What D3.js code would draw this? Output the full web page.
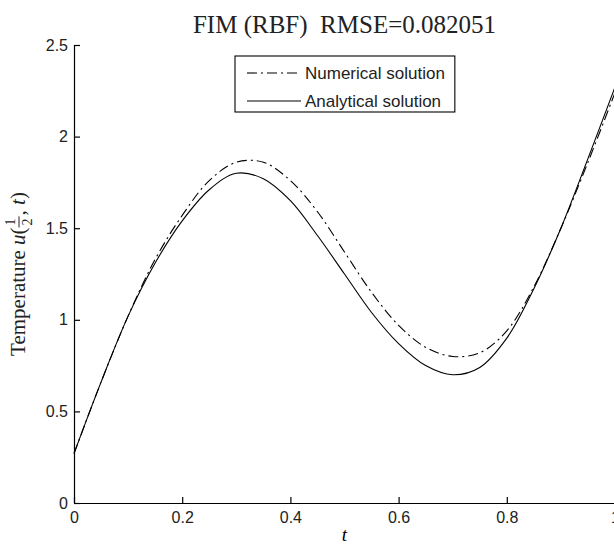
<!DOCTYPE html>
<html>
<head>
<meta charset="utf-8">
<script src="https://cdn.jsdelivr.net/npm/d3@7"></script>
<style>
  body { margin: 0; background: #fff; }
  svg { display: block; }
</style>
</head>
<body>
<svg width="614" height="546"></svg>
<script>
var svg = d3.select("svg"),
    width = 614, height = 546;

// data
var tValues    = [0, 0.05, 0.1, 0.15, 0.2, 0.25, 0.3, 0.35, 0.4, 0.45, 0.5, 0.55, 0.6, 0.65, 0.7, 0.75, 0.8, 0.85, 0.9, 0.95, 1];
var analytical = [0.27, 0.66, 1.02, 1.31, 1.54, 1.71, 1.80, 1.77, 1.65, 1.46, 1.25, 1.04, 0.87, 0.75, 0.70, 0.74, 0.90, 1.17, 1.50, 1.88, 2.27];
var numerical  = [0.27, 0.66, 1.02, 1.33, 1.57, 1.76, 1.86, 1.86, 1.76, 1.59, 1.37, 1.15, 0.97, 0.85, 0.80, 0.82, 0.94, 1.18, 1.50, 1.86, 2.24];
var xTicks = [0, 0.2, 0.4, 0.6, 0.8, 1];
var yTicks = [0, 0.5, 1, 1.5, 2, 2.5];
var seriesNames = ["Numerical solution", "Analytical solution"];

var axLeft = 74, axRight = 615, axTop = 45, axBottom = 503;

var x = d3.scaleLinear().domain([0, 1]).range([axLeft, axRight]),
    y = d3.scaleLinear().domain([0, 2.5]).range([axBottom, axTop]);

var sans = "'Liberation Sans', Arial, sans-serif",
    serif = "'Liberation Serif', 'Times New Roman', serif",
    dashDot = "10,4,2,4";

/***********************************************************************************************/

var line = d3.line()
  .x((d, i) => x(tValues[i]))
  .y(d => y(d))
  .curve(d3.curveCatmullRom.alpha(0.5));

svg.append("path").datum(numerical)
  .attr("d", line)
  .attr("fill", "none").attr("stroke", "#000").attr("stroke-width", 1.1)
  .attr("stroke-dasharray", dashDot);

svg.append("path").datum(analytical)
  .attr("d", line)
  .attr("fill", "none").attr("stroke", "#000").attr("stroke-width", 1.1);

/***********************************************************************************************/

var gx = svg.append("g").attr("transform", "translate(0," + axBottom + ")")
  .call(d3.axisBottom(x).tickValues(xTicks).tickFormat(d3.format("")).tickSizeInner(-6).tickSizeOuter(0).tickPadding(9));
var gy = svg.append("g").attr("transform", "translate(" + axLeft + ",0)")
  .call(d3.axisLeft(y).tickValues(yTicks).tickFormat(d3.format("")).tickSizeInner(-6).tickSizeOuter(0).tickPadding(6));

[gx, gy].forEach(g => {
  g.selectAll("text").attr("font-family", sans).attr("font-size", 16).attr("fill", "#222");
  g.selectAll("line, path").attr("stroke", "#000").attr("stroke-width", 1.2);
  g.attr("font-family", null).attr("font-size", null);
});

// title
svg.append("text")
  .attr("x", (axLeft + axRight) / 2).attr("y", 33)
  .attr("text-anchor", "middle")
  .attr("font-family", serif).attr("font-size", 25)
  .attr("fill", "#222")
  .style("white-space", "pre")
  .text("FIM (RBF)  RMSE=0.082051");

// x label
svg.append("text")
  .attr("x", (axLeft + axRight) / 2).attr("y", 541)
  .attr("text-anchor", "middle")
  .attr("font-family", serif).attr("font-size", 19).attr("font-style", "italic")
  .text("t");

// y label, built piece by piece in a rotated group
var yl = svg.append("g").attr("transform", "translate(25," + ((axTop + axBottom) / 2) + ") rotate(-90)");
var inner = yl.append("g");
var pieces = [
  { s: "Temperature\u00a0", italic: false },
  { s: "u", italic: true },
  { s: "(", italic: false },
  { frac: true },
  { s: ",\u00a0", italic: false },
  { s: "t", italic: true },
  { s: ")", italic: false }
];
var cx = 0;
pieces.forEach(p => {
  if (p.frac) {
    var w = 11;
    inner.append("text").attr("font-family", serif).attr("font-size", 14).attr("fill", "#222")
      .attr("x", cx + w / 2).attr("y", -10).attr("text-anchor", "middle").text("1");
    inner.append("text").attr("font-family", serif).attr("font-size", 14).attr("fill", "#222")
      .attr("x", cx + w / 2).attr("y", 7).attr("text-anchor", "middle").text("2");
    inner.append("line").attr("x1", cx).attr("x2", cx + w).attr("y1", -6).attr("y2", -6)
      .attr("stroke", "#222").attr("stroke-width", 1);
    cx += w + 1;
  } else {
    var t = inner.append("text").attr("x", cx).attr("y", 0)
      .attr("font-family", serif).attr("font-size", 21)
      .attr("font-style", p.italic ? "italic" : "normal")
      .attr("fill", "#222").text(p.s);
    cx += t.node().getComputedTextLength();
  }
});
inner.attr("transform", "translate(" + (-cx / 2) + ",0)");

/***********************************************************************************************/

// legend
var lg = svg.append("g").attr("transform", "translate(235,56)");
var rows = lg.selectAll("g").data(seriesNames).enter().append("g")
  .attr("transform", (d, i) => "translate(0," + (17 + i * 28) + ")");
rows.append("line")
  .attr("x1", 12).attr("x2", 66).attr("y1", 0).attr("y2", 0)
  .attr("stroke", "#000").attr("stroke-width", 1.1)
  .attr("stroke-dasharray", (d, i) => i == 0 ? dashDot : null);
rows.append("text")
  .attr("x", 70).attr("y", 6)
  .attr("font-family", sans).attr("font-size", 17).attr("fill", "#222")
  .text(d => d);
var lw = d3.max(rows.selectAll("text").nodes(), n => n.getComputedTextLength()) + 70 + 10;
lg.insert("rect", ":first-child")
  .attr("x", 0).attr("y", 0).attr("width", lw).attr("height", 56)
  .attr("fill", "#fff").attr("stroke", "#000").attr("stroke-width", 1.1);
</script>
</body>
</html>
